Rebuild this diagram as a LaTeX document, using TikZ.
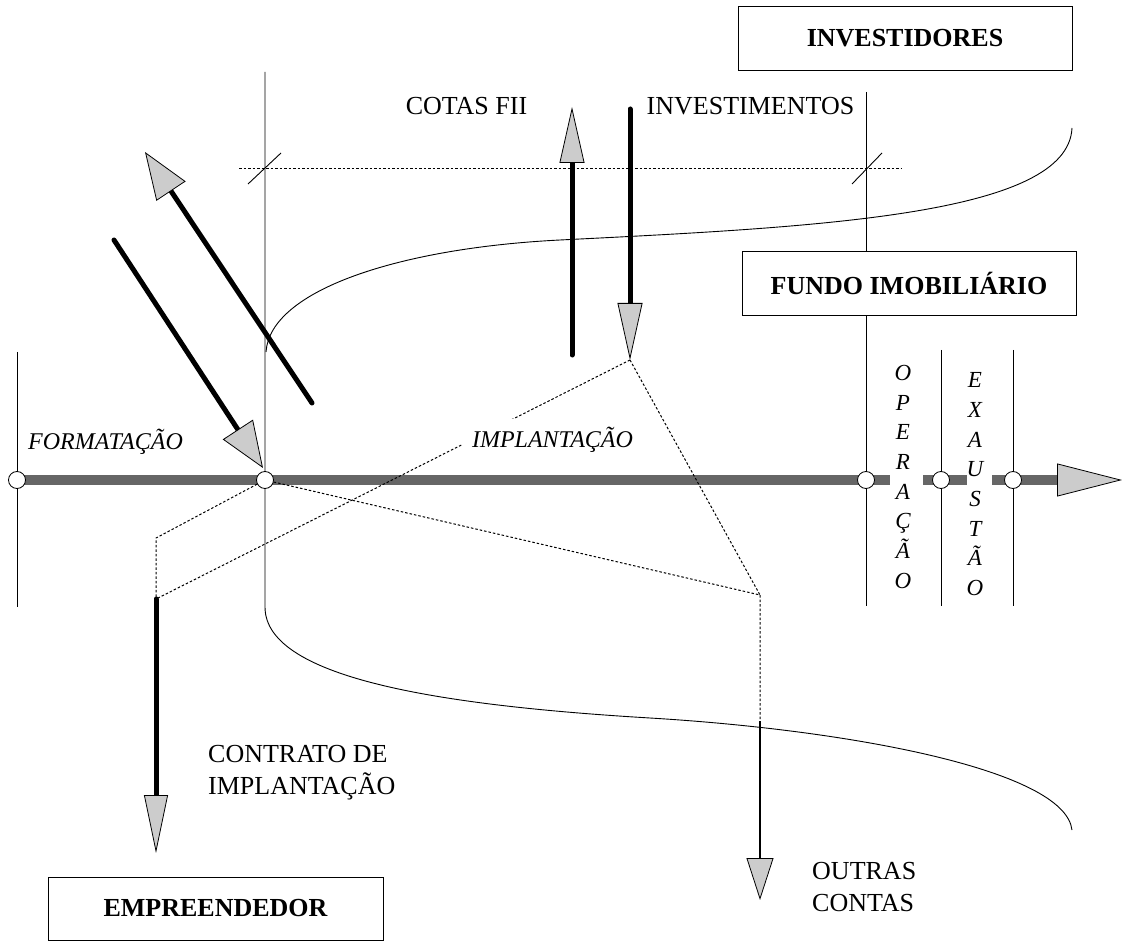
\documentclass[tikz,border=0pt]{standalone}
\usepackage{fontspec}
\setmainfont{Liberation Serif}
\usetikzlibrary{arrows.meta}
\begin{document}
\begin{tikzpicture}[x=1pt,y=-1pt,
  every node/.style={inner sep=0pt},
  thinln/.style={line width=0.9pt},
  dotln/.style={line width=1pt, dash pattern=on 2.5pt off 2pt},
  shaft/.style={line width=5pt, line cap=round},
  tiphead/.style 2 args={-{Triangle[length=#1pt,width=#2pt,color=black,fill=gray!40,line width=0.8pt]}},
  band/.style={line width=10pt, draw=black!60},
  ring/.style={circle, draw, fill=white, minimum size=17pt, line width=0.8pt},
  lbl/.style={font=\fontsize{26}{32}\selectfont},
  boxlbl/.style={draw, fill=white, line width=0.9pt, font=\bfseries\fontsize{26}{32}\selectfont, minimum width=334pt, minimum height=64pt},
  phase/.style={font=\itshape\fontsize{24}{29}\selectfont},
  vlet/.style={font=\itshape\fontsize{23}{29.7}\selectfont, align=center},
]
\useasboundingbox (0,0) rectangle (1122,941);

% coordinates
\coordinate (invTop) at (630,109);
\coordinate (invTip) at (630,360);
\coordinate (cotBot) at (572,355);
\coordinate (cotTip) at (572,107);
\coordinate (fiiBot) at (312,403);
\coordinate (fiiTip) at (145,152);
\coordinate (forTop) at (114,240);
\coordinate (forTip) at (263,468);
\coordinate (empTop) at (156,599);
\coordinate (empTip) at (156,853);
\coordinate (kneeL) at (156,538);
\coordinate (kneeR) at (760,595);
\coordinate (outCross) at (760,721);
\coordinate (outTip) at (760,900);
\coordinate (hl) at (239,169);
\coordinate (hr) at (901,169);

% structure lines
\draw[thinln] (17,352) -- (17,607);
\draw[thinln] (866,92) -- (866,606);
\draw[thinln] (941,350) -- (941,606);
\draw[thinln] (1013,350) -- (1013,606);
\draw[thinln] (265,72) -- (265,607)
   .. controls (265,680) and (450,706) .. (650,718)
   .. controls (850,730) and (1065,770) .. (1072,830);
\draw[thinln] (266,352) .. controls (270,290) and (400,248) .. (560,240)
   .. controls (820,227) and (1068,215) .. (1072,128);

% dashed horizontal with ticks
\draw[dotln] (hl) -- (hr);
\draw[thinln] (248,184) -- (281,153);
\draw[thinln] (852,184) -- (882,153);

% timeline band
\draw[band] (17,480) -- (890,480);
\draw[band] (923,480) -- (967,480);
\draw[band, -{Triangle[length=65pt,width=33pt,color=black,fill=gray!40,line width=0.8pt]}] (992,480) -- (1122,480);

% circles
\node[ring] (c1) at (17,480) {};
\node[ring] (c2) at (265,480) {};
\node[ring] (c3) at (866,480) {};
\node[ring] (c4) at (941,480) {};
\node[ring] (c5) at (1013,480) {};

% dotted links
\draw[dotln] (invTip) -- (empTop);
\draw[dotln] (invTip) -- (kneeR);
\draw[dotln] (c2) -- (kneeR) -- (outCross);
\draw[dotln] (c2) -- (kneeL) -- (empTop);

% thick arrows
\draw[shaft, tiphead={47}{35}] (fiiBot) -- (fiiTip);
\draw[shaft, tiphead={46}{36}] (forTop) -- (forTip);
\draw[shaft, tiphead={56}{25}] (cotBot) -- (cotTip);
\draw[shaft, tiphead={57}{25}] (invTop) -- (invTip);
\draw[shaft, tiphead={58}{24}] (empTop) -- (empTip);
\draw[line width=1.6pt, tiphead={42}{27}] (outCross) -- (outTip);

% boxes
\node[boxlbl] (investidores) at (905,38.5) {INVESTIDORES};
\node[boxlbl] (fundo) at (909,283) {FUNDO IMOBILIÁRIO};
\node[boxlbl, minimum width=335pt, minimum height=63pt] (empreendedor) at (215.5,908.5) {EMPREENDEDOR};

% labels
\node[lbl, anchor=base] (cotas) at (466.5,115) {COTAS FII};
\node[lbl, anchor=base] (investimentos) at (750.5,115) {INVESTIMENTOS};
\node[phase, anchor=base] (formatacao) at (105.5,449) {FORMATAÇÃO};
\node[phase, anchor=base, fill=white, inner xsep=10pt, inner ysep=8pt] (implantacao) at (552.5,447) {IMPLANTAÇÃO};
\node[vlet, anchor=north] (operacao) at (903,365) {O\\P\\E\\R\\A\\Ç\\Ã\\O};
\node[vlet, anchor=north] (exaustao) at (975,372.5) {E\\X\\A\\U\\S\\T\\Ã\\O};
\node[lbl, align=left, anchor=north west] (contrato) at (208,745.5) {CONTRATO DE\\IMPLANTAÇÃO};
\node[lbl, align=left, anchor=north west] (outras) at (812,862.5) {OUTRAS\\CONTAS};
\end{tikzpicture}
\end{document}
